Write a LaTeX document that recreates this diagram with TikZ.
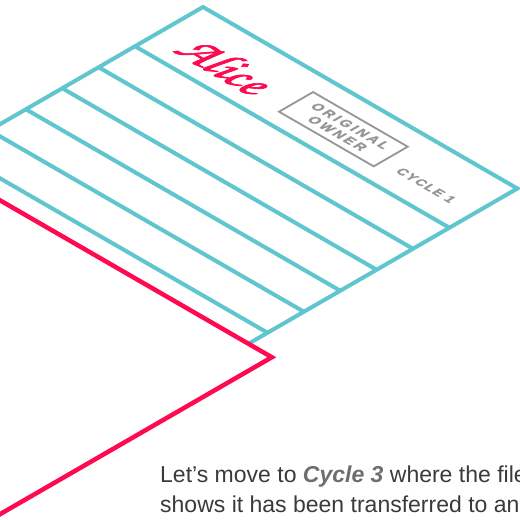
\documentclass[tikz,border=0pt]{standalone}
\usepackage{fontspec}
\setmainfont{Liberation Sans}
\newfontfamily\alicefont[FakeBold=1.8]{texgyrechorus-mediumitalic.otf}
\newfontfamily\labelfont[LetterSpace=20,FakeBold=1.6]{Liberation Sans Bold}
\newfontfamily\cyclefont[LetterSpace=12,FakeBold=1.6]{Liberation Sans Bold}
\definecolor{tealc}{RGB}{95,197,206}
\definecolor{redc}{RGB}{255,10,80}
\definecolor{labc}{RGB}{150,150,150}
\definecolor{txtc}{RGB}{58,58,58}
\definecolor{cycc}{RGB}{110,110,112}
\begin{document}
\begin{tikzpicture}[x=1pt,y=-1pt,
  tealline/.style={draw=tealc,line width=4pt},
  redline/.style={draw=redc,line width=4.5pt},
  boxline/.style={draw=labc,line width=1.8pt},
  isolabel/.style={transform shape,text=labc,inner sep=0pt},
  bodytext/.style={anchor=base west,inner sep=0pt,text=txtc,font=\fontsize{23}{30}\selectfont}]
\useasboundingbox (0,0) rectangle (520,520);
\clip (0,0) rectangle (520,520);
\begin{scope}[shift={(203,7)},cm={0.866,-0.5,0.866,0.5,(0,0)},y=1pt]
  % teal card
  \draw[tealline,fill=white] (0,0) rectangle (363,-340);
  \foreach \d in {78.5,120.5,162.5,204.5,246.5,288.5}
    \draw[tealline] (0,-\d) -- (363,-\d);
  % header contents
  \node[transform shape,inner sep=0pt,anchor=base,text=redc,font=\alicefont\fontsize{50}{50}\selectfont] (alice) at (71,-62) {Alice};
  \draw[boxline] (148.6,-60.8) rectangle (257.9,-21.5);
  \node[isolabel,align=center,font=\labelfont\fontsize{13.5}{15}\selectfont] (orig) at (204,-41.2) {ORIGINAL\\OWNER};
  \node[isolabel,font=\cyclefont\fontsize{13}{15}\selectfont] (cyc) at (307,-49.5) {CYCLE 1};
  % red card
  \draw[redline,fill=white] (27.5,-310.5) rectangle (390,-900);
\end{scope}
\node[bodytext] (l1) at (160,482) {Let’s move to \textcolor{cycc}{\bfseries\itshape Cycle 3} where the file};
\node[bodytext] (l2) at (160,512) {shows it has been transferred to an};
\end{tikzpicture}
\end{document}
